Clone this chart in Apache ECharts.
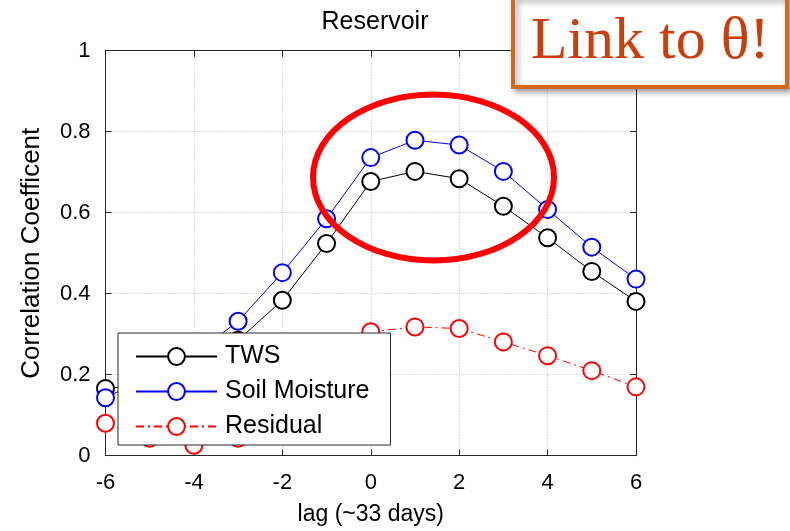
<!DOCTYPE html>
<html>
<head>
<meta charset="utf-8">
<script src="https://cdn.jsdelivr.net/npm/echarts@6/dist/echarts.min.js"></script>
<style>
html,body{margin:0;padding:0;background:#fff;}
#chart{width:790px;height:531px;}
</style>
</head>
<body>
<div id="chart"></div>
<script>
var lags = [-6, -5, -4, -3, -2, -1, 0, 1, 2, 3, 4, 5, 6];
var twsValues = [0.166, 0.175, 0.22, 0.285, 0.384, 0.524, 0.677, 0.702, 0.684, 0.616, 0.538, 0.455, 0.381];
var soilValues = [0.143, 0.197, 0.25, 0.332, 0.452, 0.585, 0.736, 0.779, 0.767, 0.702, 0.608, 0.515, 0.436];
var residualValues = [0.080, 0.043, 0.026, 0.043, 0.11, 0.21, 0.306, 0.318, 0.314, 0.281, 0.247, 0.210, 0.170];
var seriesNames = ['TWS', 'Soil Moisture', 'Residual'];
var titleText = 'Reservoir';
var xName = 'lag (~33 days)';
var yName = 'Correlation Coefficent';
var noteText = 'Link to \u03b8!';

function pairs(vals) { return lags.map(function (l, i) { return [l, vals[i]]; }); }

var chart = echarts.init(document.getElementById('chart'), null, {renderer: 'canvas'});
var font = 'Liberation Sans, Arial, Helvetica, sans-serif';
var axisColor = '#262626';

function mkSeries(name, vals, color, dash) {
  return {
    name: name, type: 'line', data: pairs(vals),
    symbol: 'emptyCircle', symbolSize: 17,
    showSymbol: true,
    color: color,
    lineStyle: {color: color, width: 1, type: dash || 'solid'},
    itemStyle: {color: color, borderColor: color, borderWidth: 1},
    emphasis: {disabled: true},
    animation: false,
    xAxisIndex: 0, yAxisIndex: 0
  };
}

var option = {
  backgroundColor: '#fff',
  animation: false,
  title: {
    text: titleText, left: 370, top: 5, textAlign: 'center',
    textStyle: {fontFamily: font, fontSize: 25, fontWeight: 'normal', color: '#000'}
  },
  legend: {
    orient: 'vertical', left: 118, top: 333,
    padding: [11, 21, 6, 17],
    itemWidth: 81, itemHeight: 21, itemGap: 10,
    backgroundColor: '#fff', borderColor: '#262626', borderWidth: 1,
    textStyle: {fontFamily: font, fontSize: 25, color: '#000', padding: [0, 0, 0, 3]},
    data: seriesNames
  },
  grid: {left: 105.5, right: 154, top: 50.7, bottom: 75.3, containLabel: false, show: false},
  xAxis: [{
    type: 'value', min: -6, max: 6, interval: 2, position: 'bottom',
    name: xName, nameLocation: 'middle', nameGap: 47,
    nameTextStyle: {fontFamily: font, fontSize: 23, color: '#000'},
    axisLine: {show: true, onZero: false, lineStyle: {color: axisColor, width: 1}},
    axisTick: {show: true, inside: true, length: 6, lineStyle: {color: axisColor}},
    axisLabel: {fontFamily: font, fontSize: 22, color: '#000', margin: 16},
    splitLine: {show: true, lineStyle: {color: '#bdbdbd', type: [1, 2], width: 1}}
  }, {
    type: 'value', min: -6, max: 6, interval: 2, position: 'top',
    axisLine: {show: true, onZero: false, lineStyle: {color: axisColor, width: 1}},
    axisTick: {show: true, inside: true, length: 6, lineStyle: {color: axisColor}},
    axisLabel: {show: false}, splitLine: {show: false}
  }],
  yAxis: [{
    type: 'value', min: 0, max: 1, interval: 0.2, position: 'left',
    name: yName, nameLocation: 'middle', nameGap: 61, nameRotate: 90,
    nameTextStyle: {fontFamily: font, fontSize: 26, color: '#000'},
    axisLine: {show: true, onZero: false, lineStyle: {color: axisColor, width: 1}},
    axisTick: {show: true, inside: true, length: 6, lineStyle: {color: axisColor}},
    axisLabel: {fontFamily: font, fontSize: 22, color: '#000', margin: 15,
      formatter: function (v) { return String(+v.toFixed(1)); }},
    splitLine: {show: true, lineStyle: {color: '#bdbdbd', type: [1, 2], width: 1}}
  }, {
    type: 'value', min: 0, max: 1, interval: 0.2, position: 'right',
    axisLine: {show: true, onZero: false, lineStyle: {color: axisColor, width: 1}},
    axisTick: {show: true, inside: true, length: 6, lineStyle: {color: axisColor}},
    axisLabel: {show: false}, splitLine: {show: false}
  }],
  series: [
    mkSeries(seriesNames[0], twsValues, '#000000'),
    mkSeries(seriesNames[1], soilValues, '#0000ff'),
    mkSeries(seriesNames[2], residualValues, '#ff0000', [8, 4, 2, 4])
  ],
  graphic: [
    {
      type: 'ellipse', z: 100,
      shape: {cx: 433.5, cy: 177.5, rx: 120.5, ry: 83},
      style: {fill: null, stroke: '#ff0000', lineWidth: 6}
    },
    {
      type: 'rect', z: 100,
      shape: {x: 513, y: -3, width: 274, height: 90},
      style: {fill: '#fff', stroke: '#d2691e', lineWidth: 4,
        shadowBlur: 6, shadowOffsetX: 3, shadowOffsetY: 3, shadowColor: 'rgba(0,0,0,0.35)'}
    },
    {
      type: 'text', z: 101, x: 650, y: 42,
      style: {text: noteText, fill: '#cc3d0d', font: '60px "Liberation Serif", "DejaVu Serif", serif',
        align: 'center', verticalAlign: 'middle',
        shadowBlur: 3, shadowOffsetX: 2, shadowOffsetY: 2, shadowColor: 'rgba(0,0,0,0.3)'}
    }
  ]
};
chart.setOption(option);
</script>
</body>
</html>
